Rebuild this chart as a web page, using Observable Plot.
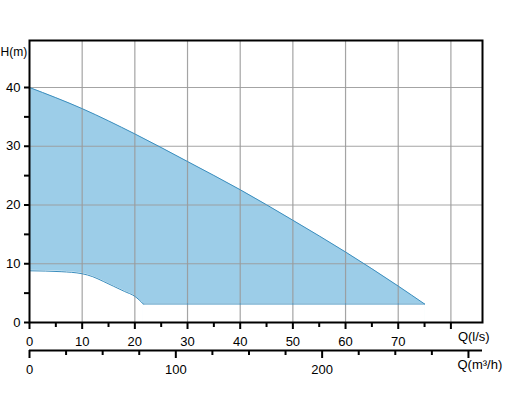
<!DOCTYPE html>
<html>
<head>
<meta charset="utf-8">
<script src="https://cdn.jsdelivr.net/npm/d3@7"></script>
<script src="https://cdn.jsdelivr.net/npm/@observablehq/plot@0.6"></script>
<style>
  html, body { margin: 0; padding: 0; background: #fff; }
</style>
</head>
<body>
<div id="chart"></div>
<script>
// Upper boundary of the operating range (Q in l/s, H in m)
const upperQ = [0, 10, 20, 30, 40, 50, 60, 70, 75];
const upperH = [40, 36.4, 32.1, 27.4, 22.6, 17.4, 12.0, 6.2, 3.15];
// Lower boundary: curved part, then flat minimum-head part
const lowerQ = [0, 6, 10, 12, 14, 16, 18, 20, 21.6];
const lowerH = [8.8, 8.65, 8.3, 7.8, 7.0, 6.15, 5.3, 4.45, 3.15];
const minHeadQ = [21.6, 75];
const minHeadH = [3.15, 3.15];

// Axis ticks
const yTicks = [0, 5, 10, 15, 20, 25, 30, 35, 40];
const xMajor = [0, 10, 20, 30, 40, 50, 60, 70, 80];
const xMinor = [5, 15, 25, 35, 45, 55, 65, 75];
const m3hMajor = [0, 100, 200, 300];
const m3hMinor = [25, 50, 75, 125, 150, 175, 225, 250, 275];
const xUnitLabel = "Q(l/s)";
const m3hUnitLabel = "Q(m³/h)";
const yUnitLabel = "H(m)";
const LPS_PER_M3H = 1 / 3.6;

const upper = upperQ.map((q, i) => ({q, h: upperH[i]}));
const lower = lowerQ.map((q, i) => ({q, h: lowerH[i]}));
const minHead = minHeadQ.map((q, i) => ({q, h: minHeadH[i]}));

const fillColor = "#9ccde8";
const strokeColor = "#3a8dbd";
const gridColor = "#9a9a9a";

const chart = Plot.plot({
  width: 531,
  height: 398,
  marginLeft: 29,
  marginTop: 40,
  marginRight: 49,
  marginBottom: 76,
  style: {fontFamily: "'Liberation Sans', Arial, sans-serif", fontSize: "13px", color: "black", background: "white"},
  x: {domain: [0, 86], label: null},
  y: {domain: [0, 48], label: null},
  marks: [
    Plot.areaY(upper, {x: "q", y: "h", fill: fillColor, curve: "monotone-x"}),
    Plot.areaY(lower, {x: "q", y: "h", fill: "white", stroke: "white", strokeWidth: 0.8, curve: "monotone-x"}),
    Plot.areaY(minHead, {x: "q", y: "h", fill: "white", stroke: "white", strokeWidth: 0.8}),
    Plot.gridX(xMajor.slice(1), {stroke: gridColor, strokeOpacity: 0.9, strokeWidth: 1.2}),
    Plot.gridY([10, 20, 30, 40], {stroke: gridColor, strokeOpacity: 0.9, strokeWidth: 1.2}),
    Plot.line(upper, {x: "q", y: "h", stroke: strokeColor, strokeWidth: 1, curve: "monotone-x"}),
    Plot.line(lower, {x: "q", y: "h", stroke: strokeColor, strokeWidth: 1, curve: "monotone-x"}),
    Plot.line(minHead, {x: "q", y: "h", stroke: strokeColor, strokeWidth: 1}),
    Plot.frame({stroke: "black", strokeWidth: 2}),
    Plot.axisY(yTicks, {label: null, tickSize: 5, tickPadding: 4, strokeWidth: 2, tickFormat: d => d % 10 === 0 ? d : ""}),
    Plot.axisX(xMajor, {label: null, tickSize: 7, tickPadding: 7, strokeWidth: 2, tickFormat: d => d < 80 ? d : ""}),
    Plot.axisX(xMinor, {label: null, tickSize: 5, strokeWidth: 2, tickFormat: () => ""}),
    Plot.ruleY([0], {dy: 28, stroke: "black", strokeWidth: 2}),
    Plot.axisX(m3hMajor.map(d => d * LPS_PER_M3H), {label: null, dy: 28, tickSize: 8, tickPadding: 6, strokeWidth: 2, tickFormat: d => { const v = Math.round(d * 3.6); return v < 300 ? v : ""; }}),
    Plot.axisX(m3hMinor.map(d => d * LPS_PER_M3H), {label: null, dy: 28, tickSize: 5, strokeWidth: 2, tickFormat: () => ""}),
    Plot.text([xUnitLabel], {x: () => xMajor[xMajor.length - 1], frameAnchor: "bottom", textAnchor: "start", dx: 7, dy: 18}),
    Plot.text([m3hUnitLabel], {x: () => m3hMajor[m3hMajor.length - 1] * LPS_PER_M3H, frameAnchor: "bottom", textAnchor: "start", dx: -11, dy: 46}),
    Plot.text([yUnitLabel], {frameAnchor: "top-left", textAnchor: "start", fontSize: 12, dx: -29, dy: 7})
  ]
});
document.getElementById("chart").appendChild(chart);
</script>
</body>
</html>
